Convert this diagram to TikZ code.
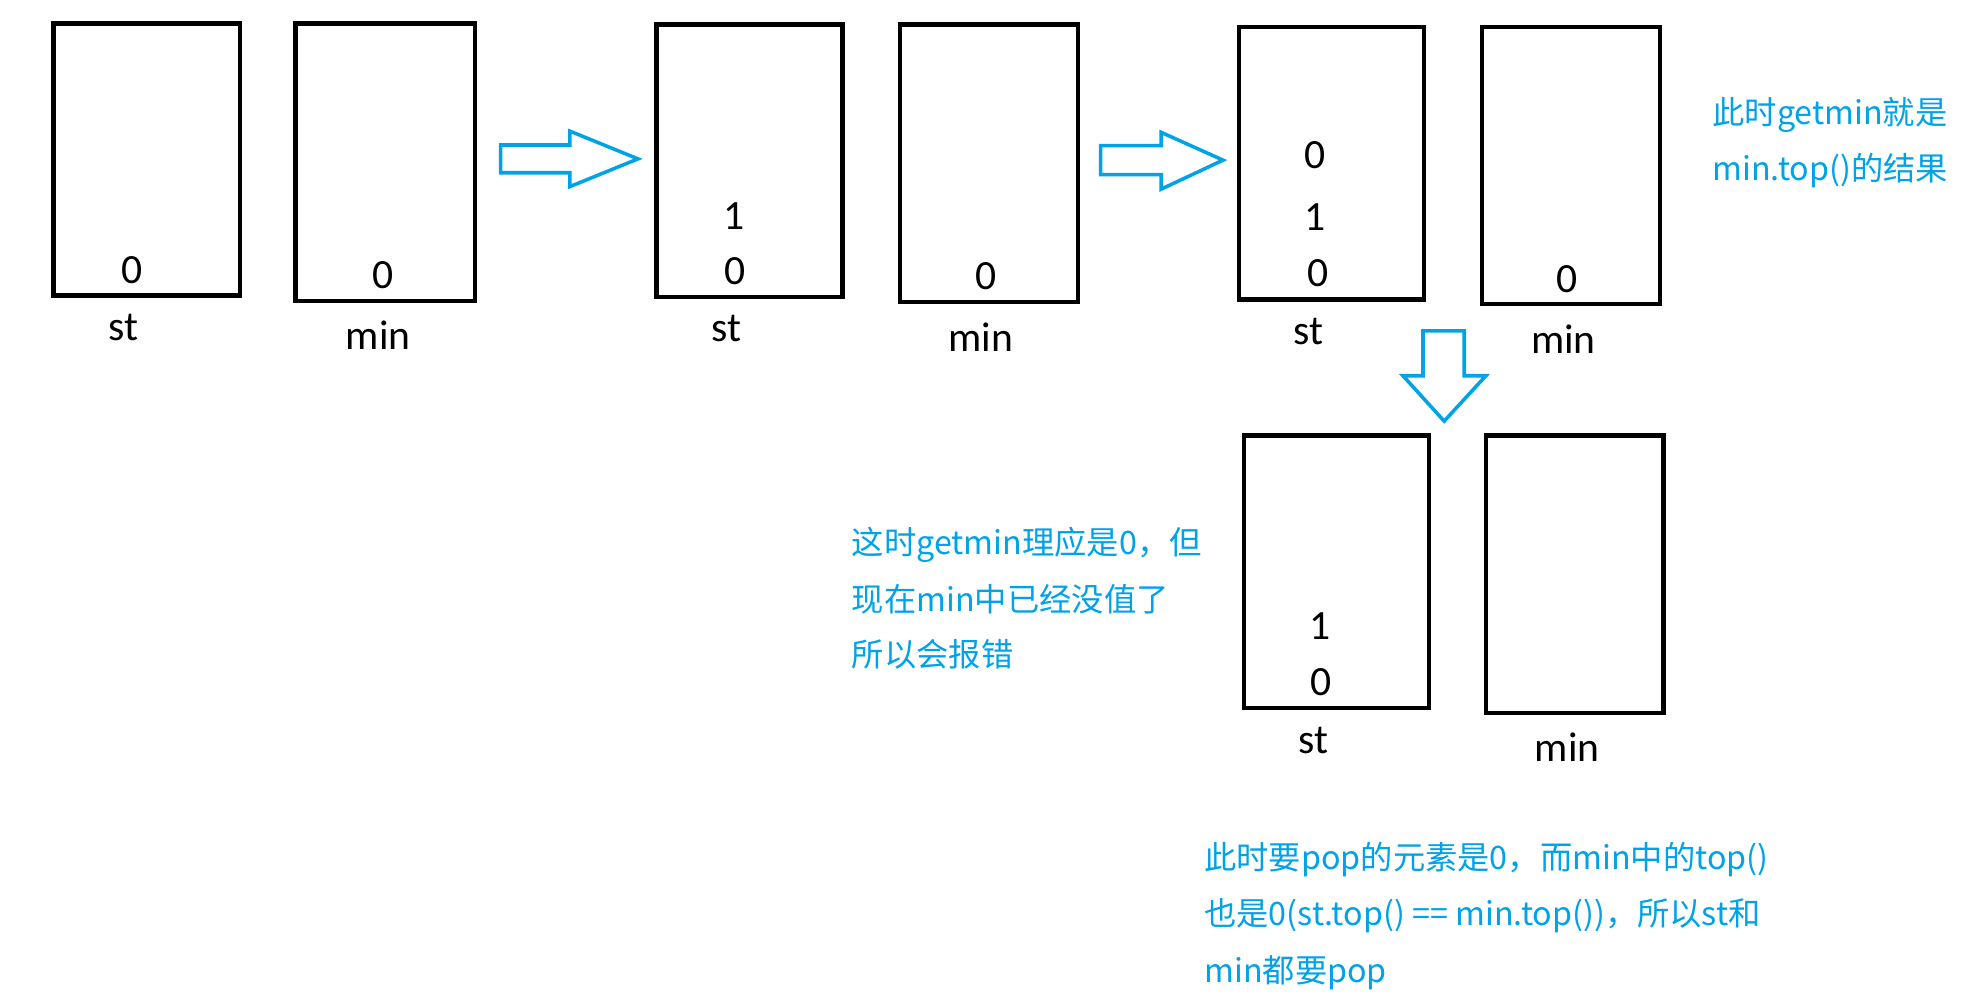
\documentclass[tikz,border=0pt]{standalone}
\usepackage{fontspec}
\setmainfont{Carlito}
\newfontfamily\cjk{Noto Sans CJK SC}
\definecolor{paintblue}{HTML}{00A2E8}
\tikzset{
  stk/.style={draw=black, line width=3.5pt, rectangle, inner sep=0pt},
  val/.style={inner sep=0pt, anchor=base, font=\fontsize{33}{36}\selectfont},
  lbl/.style={inner sep=0pt, anchor=base, font=\fontsize{33}{36}\selectfont},
  note/.style={inner sep=0pt, anchor=base west, text=paintblue, font=\cjk\fontsize{25.6}{30}\selectfont},
  blockarrow/.style={draw=paintblue, line width=2.8pt, line join=miter, fill=white}
}
\begin{document}
\begin{tikzpicture}[x=1pt,y=-1pt]
\fill[white] (0,0) rectangle (1568,790);
\useasboundingbox (0,0) rectangle (1568,790);

% panel 1
\node[stk, minimum width=148pt, minimum height=216pt] (st1) at (116.5,126.5) {};
\node[stk, minimum width=142pt, minimum height=220pt] (min1) at (305.5,128.5) {};
\node[val] (st1a) at (105,225) {0};
\node[val] (min1a) at (304,229) {0};
\node[lbl] (st1l) at (98,270) {st};
\node[lbl] (min1l) at (300,277) {min};

% arrow 1
\draw[blockarrow] (397,115) -- (452,115) -- (452,104) -- (506,126) -- (452,148) -- (452,137) -- (397,137) -- cycle;

% panel 2
\node[stk, minimum width=147.5pt, minimum height=216pt] (st2) at (594.3,127.5) {};
\node[stk, minimum width=141pt, minimum height=220pt] (min2) at (784.5,129.5) {};
\node[val] (st2b) at (582,182) {1};
\node[val] (st2a) at (583,226) {0};
\node[val] (min2a) at (782,230) {0};
\node[lbl] (st2l) at (576,271) {st};
\node[lbl] (min2l) at (778,278.5) {min};

% arrow 2
\draw[blockarrow] (873,115.5) -- (921,115.5) -- (921,105) -- (970,127) -- (921,150) -- (921,138.5) -- (873,138.5) -- cycle;

% panel 3
\node[stk, minimum width=147pt, minimum height=216pt] (st3) at (1056,129.5) {};
\node[stk, minimum width=141pt, minimum height=219.5pt] (min3) at (1246,131.25) {};
\node[val] (st3c) at (1043,133.5) {0};
\node[val] (st3b) at (1043,183) {1};
\node[val] (st3a) at (1045,227) {0};
\node[val] (min3a) at (1243,232) {0};
\node[lbl] (st3l) at (1038,273) {st};
\node[lbl] (min3l) at (1240,280) {min};

% down arrow
\draw[blockarrow] (1128.6,262.4) -- (1161.3,262.4) -- (1161.3,298) -- (1178.5,298) -- (1145.4,334) -- (1112.7,298) -- (1128.6,298) -- cycle;

% panel 4
\node[stk, minimum width=147pt, minimum height=216pt] (st4) at (1060,453.5) {};
\node[stk, minimum width=141pt, minimum height=220pt] (min4) at (1249,455.5) {};
\node[val] (st4b) at (1047,507) {1};
\node[val] (st4a) at (1048,552) {0};
\node[lbl] (st4l) at (1042,598) {st};
\node[lbl] (min4l) at (1243,604) {min};

% notes
\node[note] (n1a) at (1358,99) {此时getmin就是};
\node[note] (n1b) at (1358,143.5) {min.top()的结果};

\node[note] (n2a) at (675.5,440) {这时getmin理应是0，但};
\node[note] (n2b) at (675.5,485) {现在min中已经没值了};
\node[note] (n2c) at (675.5,529) {所以会报错};

\node[note] (n3a) at (955,690) {此时要pop的元素是0，而min中的top()};
\node[note] (n3b) at (955,734) {也是0(st.top() == min.top())，所以st和};
\node[note] (n3c) at (955,779) {min都要pop};
\end{tikzpicture}
\end{document}
